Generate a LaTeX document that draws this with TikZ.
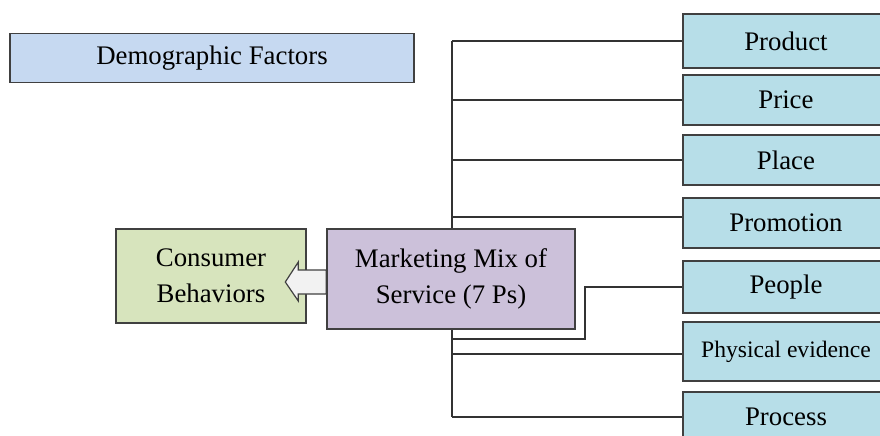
\documentclass[tikz,border=0pt]{standalone}
\usepackage{fontspec}
\setmainfont{Liberation Serif}
\usetikzlibrary{backgrounds}

\definecolor{demofill}{RGB}{198,217,241}
\definecolor{consfill}{RGB}{215,228,189}
\definecolor{mixfill}{RGB}{204,193,218}
\definecolor{pfill}{RGB}{183,222,232}
\definecolor{edge}{RGB}{64,64,64}

\tikzset{
  box/.style={draw=edge,line width=0.7pt,inner sep=0pt,align=center,
    font=\fontsize{13.4}{18}\selectfont},
  pbox/.style={box,fill=pfill,minimum width=103pt,minimum height=25pt},
  link/.style={draw=black!80,line width=0.6pt},
  pusharrow/.style={draw=edge,line width=0.6pt,fill=black!5}
}

\begin{document}
\begin{tikzpicture}
  [x=0.5pt,y=-0.5pt]
  \useasboundingbox (0,0) rectangle (880,435);

  \node[box,fill=demofill,minimum width=202pt,minimum height=24.5pt] (demo) at (212,58) {Demographic Factors};
  \node[box,fill=consfill,minimum width=95pt,minimum height=47pt] (cons) at (211,276) {Consumer\\Behaviors};
  \node[box,fill=mixfill,minimum width=124pt,minimum height=50pt] (mix) at (451,279) {Marketing Mix of\\Service (7 Ps)};

  \node[pbox,minimum height=27pt] (product) at (786,41) {Product};
  \node[pbox] (price) at (786,100) {Price};
  \node[pbox] (place) at (786,160) {Place};
  \node[pbox] (promo) at (786,223) {Promotion};
  \node[pbox,minimum height=26pt] (people) at (786,287) {People};
  \node[pbox,minimum height=29.5pt,font=\fontsize{11.8}{14}\selectfont] (phys) at (786,351.5) {Physical evidence};
  \node[pbox] (process) at (786,417) {Process};

  \coordinate (trunk) at (452,0);
  \coordinate (bend) at (585,339);

  \begin{scope}[on background layer]
    \draw[link] (product.west -| trunk) -- (process.west -| trunk);
    \draw[link] (product.west) -- (product.west -| trunk);
    \draw[link] (price.west) -- (price.west -| trunk);
    \draw[link] (place.west) -- (place.west -| trunk);
    \draw[link] ([yshift=3pt]promo.west) -- ([yshift=3pt]promo.west -| trunk);
    \draw[link] (people.west) -- (people.west -| bend) -- (bend) -- (bend -| trunk);
    \draw[link] ([yshift=-1.25pt]phys.west) -- ([yshift=-1.25pt]phys.west -| trunk);
    \draw[link] (process.west) -- (process.west -| trunk);
  \end{scope}

  \draw[pusharrow,shift={(mix.west)}] (0,-9) -- (-28,-9) -- (-28,-17) -- (-41,3)
    -- (-28,22) -- (-28,15) -- (0,15) -- cycle;
\end{tikzpicture}
\end{document}
